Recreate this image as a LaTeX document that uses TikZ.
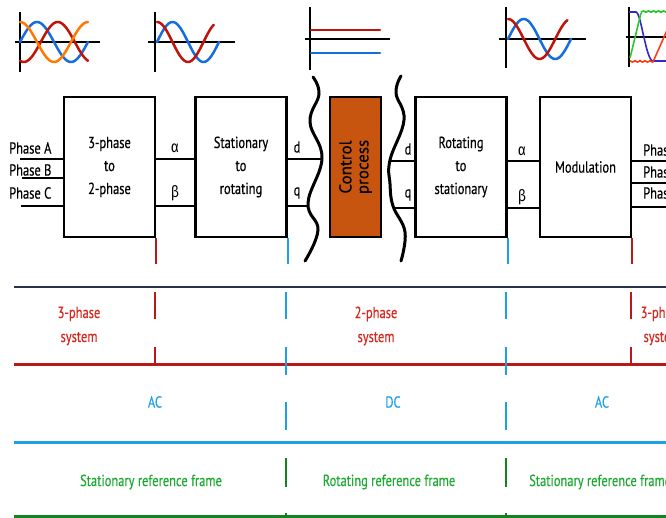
\documentclass[tikz,border=0pt]{standalone}
\usepackage{fontspec}
\setmainfont{PT Sans}[FakeStretch=0.78,FakeBold=0.4]
\newfontfamily\grk{Fira Sans}[FakeStretch=0.85]
\newfontfamily\cpfont{PT Sans}[FakeBold=0.4]
\definecolor{lred}{RGB}{185,25,25}
\definecolor{tred}{RGB}{215,40,30}
\definecolor{lblue}{RGB}{30,160,232}
\definecolor{lgreen}{RGB}{20,130,30}
\definecolor{tgreen}{RGB}{30,170,50}
\definecolor{topc}{RGB}{40,50,80}
\definecolor{cpfill}{RGB}{200,85,15}
\definecolor{iorange}{RGB}{255,120,0}
\definecolor{ired}{RGB}{190,20,10}
\definecolor{iblue}{RGB}{20,110,220}
\definecolor{ipurple}{RGB}{50,40,200}
\definecolor{igreen}{RGB}{40,200,40}
\definecolor{ired2}{RGB}{255,60,20}
\begin{document}
\begin{tikzpicture}[x=1pt,y=-1pt,
  blk/.style={draw=black, line width=2.5pt, fill=white, align=center,
    minimum height=140pt, minimum width=91pt, inner sep=0pt,
    font=\fontsize{16}{23}\selectfont},
  wire/.style={line width=2.5pt, black},
  lbl/.style={inner sep=0pt, font=\fontsize{16}{17}\selectfont},
  lbl2/.style={inner sep=0pt, align=center, font=\fontsize{16}{24}\selectfont},
  wavy/.style={line width=3pt, black, line cap=round},
  axisl/.style={line width=2.5pt, black},
  icurve/.style={line width=2.5pt, line cap=round},
  hsep/.style={line width=3pt},
  vmark/.style={line width=1.8pt},
]
\useasboundingbox (0,0) rectangle (666,518);
\clip (0,0) rectangle (666,518);

% ---------- icons ----------
% icon 1 : three phase
\draw[axisl] (20,12) -- (20,72);
\draw[axisl] (15,42) -- (100,42);
\draw[icurve, iblue]   plot[domain=0:360, samples=60, smooth] ({20+\x/360*68},{42-20*sin(\x)});
\draw[icurve, ired]    plot[domain=0:360, samples=60, smooth] ({20+\x/360*68},{42-20*cos(\x-200)});
\draw[icurve, iorange] plot[domain=0:360, samples=60, smooth] ({20+\x/360*68},{42-20*cos(\x)});
% icon 2 : two phase
\draw[axisl] (155,12) -- (155,72);
\draw[axisl] (148,42) -- (235,42);
\draw[icurve, iblue] plot[domain=0:360, samples=60, smooth] ({157+\x/360*62},{42-20*sin(\x)});
\draw[icurve, ired]  plot[domain=0:330, samples=60, smooth] ({157+\x/360*62},{42-20*cos(\x)});
% icon 3 : dc
\draw[axisl] (310,7) -- (310,70);
\draw[axisl] (305,39) -- (390,39);
\draw[icurve, ired]  (311,30) -- (380,30);
\draw[icurve, iblue] (311,53) -- (380,53);
% icon 4 : two phase
\draw[axisl] (506,7) -- (506,68);
\draw[axisl] (499,39) -- (586,39);
\draw[icurve, iblue] plot[domain=0:360, samples=60, smooth] ({508+\x/360*63},{39-20*sin(\x)});
\draw[icurve, ired]  plot[domain=0:340, samples=60, smooth] ({508+\x/360*63},{39-20*cos(\x)});
% icon 5 : three phase modulated
\draw[axisl] (629,7) -- (629,67);
\draw[axisl] (626,37) -- (670,37);
\draw[line width=1.6pt, ipurple] (629,12) -- (636,12) .. controls (641,12) and (646,61) .. (653,61) -- (670,61);
\draw[line width=1.6pt, igreen] (630,58) -- (641,13) plot[domain=641:670, samples=40, smooth] (\x,{12.5-1.5*abs(sin(36*(\x-641)))});
\draw[line width=1.6pt, ired2] plot[domain=630:653, samples=40, smooth] (\x,{60.5+1.5*abs(sin(36*(\x-630)))}) -- (668,28);

% ---------- blocks ----------
\node[blk] (b1) at (109.5,167) {3-phase\\to\\2-phase};
\node[blk] (b2) at (241,167) {Stationary\\to\\rotating};
\node[draw=black, line width=2.5pt, fill=cpfill, rotate=90, minimum width=140pt,
      minimum height=51pt, inner sep=0pt, align=center,
      font=\cpfont\fontsize{17}{17}\selectfont] (cp) at (355.5,167) {Control\\process};
\node[blk] (b3) at (461,167) {Rotating\\to\\stationary};
\node[blk] (b4) at (585.5,167) {Modulation};

% wavy cuts
\draw[wavy] plot[smooth, tension=0.7] coordinates {(313,77) (319,94) (310,122) (322,158) (308,203) (318,230) (305,261)};
\draw[wavy] plot[smooth, tension=0.7] coordinates {(401,76) (396,93) (404,120) (390,160) (390,184) (393,206) (405,232) (401,261)};

% ports
\coordinate (pA) at (20,159);
\coordinate (pB) at (22,178);
\coordinate (pC) at (21,206);
\coordinate (ya) at (0,159);
\coordinate (yb) at (0,206);
\coordinate (yc) at (0,161);
\coordinate (yd) at (0,208);
\coordinate (w1d) at (321,159);
\coordinate (w1q) at (309,206);
\coordinate (w2d) at (391,161);
\coordinate (w2q) at (393,208);
\coordinate (oA) at (670,161);
\coordinate (oB) at (670,183);
\coordinate (oC) at (670,207);

\draw[wire] (pA) -- (b1.west |- pA);
\draw[wire] (pB) -- (b1.west |- pB);
\draw[wire] (pC) -- (b1.west |- pC);
\draw[wire] (b1.east |- ya) -- (b2.west |- ya);
\draw[wire] (b1.east |- yb) -- (b2.west |- yb);
\draw[wire] (b2.east |- ya) -- (w1d);
\draw[wire] (b2.east |- yb) -- (w1q);
\draw[wire] (w2d) -- (b3.west |- yc);
\draw[wire] (w2q) -- (b3.west |- yd);
\draw[wire] (b3.east |- yc) -- (b4.west |- yc);
\draw[wire] (b3.east |- yd) -- (b4.west |- yd);
\draw[wire] (b4.east |- oA) -- (oA);
\draw[wire] (b4.east |- oB) -- (oB);
\draw[wire] (b4.east |- oC) -- (oC);

% labels
\node[lbl, anchor=west] (lA) at (9,148) {Phase A};
\node[lbl, anchor=west] (lB) at (9,170) {Phase B};
\node[lbl, anchor=west] (lC) at (9,193) {Phase C};
\node[lbl] (al1) at (175,148) {\grk α};
\node[lbl] (be1) at (175,193) {\grk β};
\node[lbl] (d1) at (297,147) {d};
\node[lbl] (q1) at (297,193) {q};
\node[lbl] (d2) at (408,149) {d};
\node[lbl] (q2) at (408,195) {q};
\node[lbl] (al2) at (522,151) {\grk α};
\node[lbl] (be2) at (522,197) {\grk β};
\node[lbl, anchor=west] (rA) at (643,150) {Phase A};
\node[lbl, anchor=west] (rB) at (643,172) {Phase B};
\node[lbl, anchor=west] (rC) at (643,193) {Phase C};

% ticks under blocks
\draw[vmark, lred]  (b1.south east) -- ++(0,26);
\draw[vmark, lblue] (b2.south east) -- ++(0,26);
\draw[vmark, lblue] (b3.south east) -- ++(0,26);
\draw[vmark, lred]  (b4.south east) -- ++(0,26);

% ---------- lower bands ----------
\draw[line width=2.5pt, topc] (14,287) -- (670,287);
\draw[hsep, lred]   (14,364) -- (670,364);
\draw[hsep, lblue]  (14,442) -- (670,442);
\draw[hsep, lgreen] (14,516) -- (670,516);

\foreach \xx in {155,631}{
  \draw[vmark, lred] (\xx,292) -- (\xx,319);
  \draw[vmark, lred] (\xx,347) -- (\xx,364);
}
\foreach \xx in {286,506}{
  \draw[vmark, lblue] (\xx,292) -- (\xx,319);
  \draw[vmark, lblue] (\xx,347) -- (\xx,375);
  \draw[vmark, lblue] (\xx,402) -- (\xx,430);
  \draw[vmark, lgreen] (\xx,458) -- (\xx,487);
  \draw[vmark, lgreen] (\xx,513) -- (\xx,518);
}

\node[lbl2, text=tred] (s1) at (79,326) {3-phase\\system};
\node[lbl2, text=tred] (s2) at (376,326) {2-phase\\system};
\node[lbl2, text=tred] (s3) at (662,326) {3-phase\\system};
\node[lbl, text=lblue] (ac1) at (155,402) {AC};
\node[lbl, text=lblue] (dc) at (393,402) {DC};
\node[lbl, text=lblue] (ac2) at (602,402) {AC};
\node[lbl, text=tgreen] (f1) at (151,482) {Stationary reference frame};
\node[lbl, text=tgreen] (f2) at (389,482) {Rotating reference frame};
\node[lbl, text=tgreen, anchor=west] (f3) at (529,482) {Stationary reference frame};
\end{tikzpicture}
\end{document}
